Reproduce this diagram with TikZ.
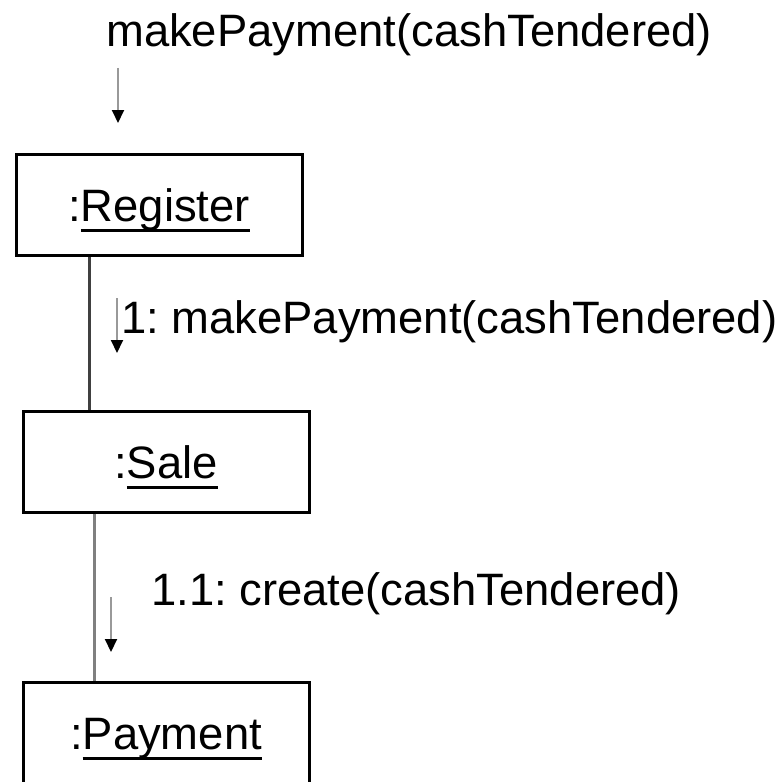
\documentclass[tikz,border=0pt]{standalone}
\usepackage{fontspec}
\setmainfont{Liberation Sans}
\usetikzlibrary{arrows.meta}
\frenchspacing
% object name: colon followed by the underlined class name
\newcommand\objname[1]{:\setbox0\hbox{#1}\rlap{\rule[-10.3pt]{\wd0}{2.6pt}}\box0}
\begin{document}
\begin{tikzpicture}[x=1pt,y=-1pt,
  bigfont/.style={font=\fontsize{45.4}{54}\selectfont},
  obj/.style={draw=black, line width=3pt, minimum width=286pt, minimum height=101pt,
    inner sep=0pt, text height=33pt, text depth=0pt, bigfont},
  msg/.style={bigfont, inner sep=0pt, anchor=base west},
  link/.style={line width=3pt},
  flow/.style={draw=black!40, line width=2pt,
    -{Triangle[color=black,width=12pt,length=13pt]}}]
  \clip (0,0) rectangle (783,781);
  \fill[white] (0,0) rectangle (783,781);

  % objects
  \node[obj] (reg)  at (159,205)   {\objname{Register}};
  \node[obj] (sale) at (166,461.7) {\objname{Sale}};
  \node[obj] (pay)  at (166,732.7) {\objname{Payment}};

  % links between objects
  \coordinate (l1) at (89,0);
  \coordinate (l2) at (94,0);
  \draw[link, black!75] (reg.south -| l1) -- (sale.north -| l1);
  \draw[link, black!50] (sale.south -| l2) -- (pay.north -| l2);

  % incoming message
  \node[msg] (m0) at (106,47) {makePayment(cashTendered)};
  \coordinate (a0s) at (118,68);
  \coordinate (a0e) at (118,123);
  \draw[flow] (a0s) -- (a0e);

  % message 1
  \node[msg] (m1) at (121,333) {1: makePayment(cashTendered)};
  \coordinate (a1s) at (117,298);
  \coordinate (a1e) at (117,353);
  \draw[flow] (a1s) -- (a1e);

  % message 1.1
  \node[msg] (m2) at (151,605) {1.1: create(cashTendered)};
  \coordinate (a2s) at (111,597);
  \coordinate (a2e) at (111,652);
  \draw[flow] (a2s) -- (a2e);
\end{tikzpicture}
\end{document}
